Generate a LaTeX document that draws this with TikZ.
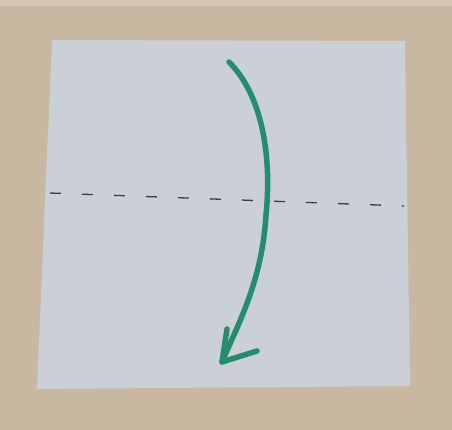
\documentclass[tikz,border=0pt]{standalone}
\definecolor{tan}{RGB}{200,184,162}
\definecolor{paper}{RGB}{203,208,216}
\definecolor{pen}{RGB}{38,140,110}
\definecolor{dash}{RGB}{60,62,66}
\tikzset{
  foldarrow/.style={draw=pen, line width=5.5pt, line cap=round, line join=round},
  valley/.style={draw=dash, line width=1.3pt, dash pattern=on 11pt off 21pt},
}
\begin{document}
\begin{tikzpicture}[x=1pt,y=-1pt]
\useasboundingbox (0,0) rectangle (452,430);
\fill[tan] (0,0) rectangle (452,430);
\fill[tan!80!white] (0,0) rectangle (452,6);
\fill[paper] (52,40) coordinate (p1) -- (405,41) coordinate (p2) -- (410,386) coordinate (p3) -- (37,389) coordinate (p4) -- cycle;
\coordinate (dl) at (50,193);
\coordinate (dr) at (404,206);
\draw[valley] (dl) -- (dr);
\coordinate (s) at (229,62);
\coordinate (m) at (266,215);
\coordinate (t) at (222,362);
\coordinate (w1) at (227,329);
\coordinate (w2) at (257,351);
\draw[foldarrow] (s) .. controls (262,95) and (272,155) .. (m) .. controls (262,280) and (240,320) .. (t);
\draw[foldarrow] (w1) -- (t) -- (w2);
\end{tikzpicture}
\end{document}
